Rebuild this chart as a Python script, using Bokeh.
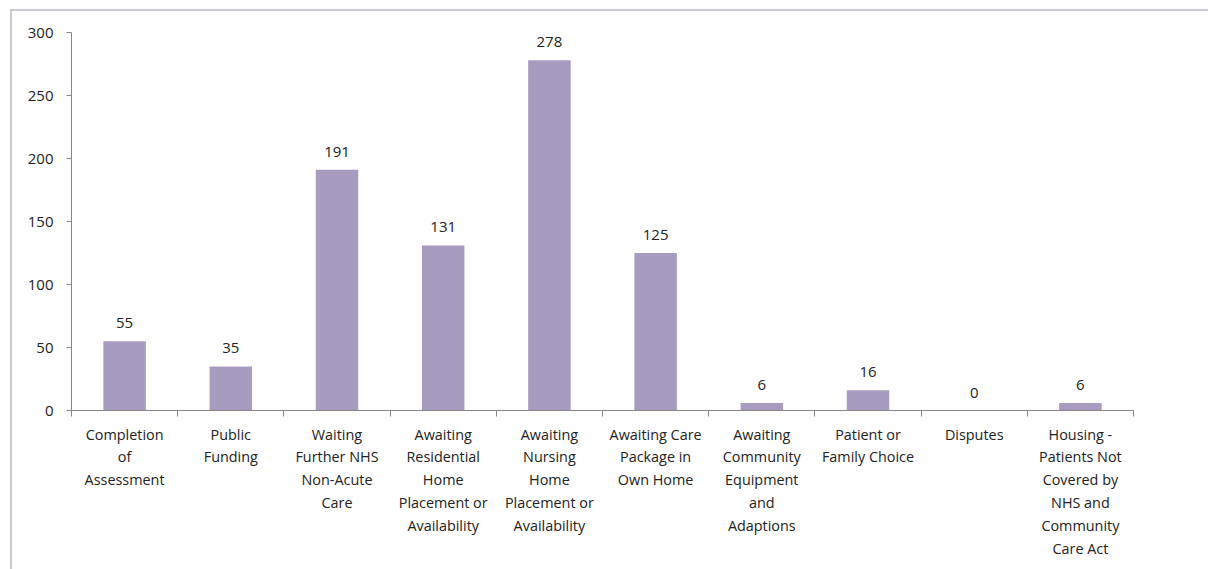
from bokeh.plotting import figure
from bokeh.models import FixedTicker, Range1d, ColumnDataSource
from bokeh.core.properties import value
from bokeh.embed import file_html
from bokeh.resources import INLINE

categories = [
    "Completion\nof\nAssessment",
    "Public\nFunding",
    "Waiting\nFurther NHS\nNon-Acute\nCare",
    "Awaiting\nResidential\nHome\nPlacement or\nAvailability",
    "Awaiting\nNursing\nHome\nPlacement or\nAvailability",
    "Awaiting Care\nPackage in\nOwn Home",
    "Awaiting\nCommunity\nEquipment\nand\nAdaptions",
    "Patient or\nFamily Choice",
    "Disputes",
    "Housing -\nPatients Not\nCovered by\nNHS and\nCommunity\nCare Act",
]
values = [55, 35, 191, 131, 278, 125, 6, 16, 0, 6]
y_ticks = [0, 50, 100, 150, 200, 250, 300]

n = len(categories)
centers = [i + 0.5 for i in range(n)]
bounds = list(range(n + 1))

src = ColumnDataSource(dict(x=centers, top=values, label=[str(v) for v in values]))

FONT = "Open Sans"
TXT = "#222222"

p = figure(
    width=1196, height=558,
    output_backend="svg", toolbar_location=None,
    x_range=Range1d(0, n), y_range=Range1d(0, 300),
    frame_width=1062, frame_height=378,
    min_border_left=59, min_border_top=21, min_border_right=75, min_border_bottom=159,
)
p.styles = {
    "border-top": "2px solid #c9cbd0",
    "border-left": "2px solid #c9cbd0",
    "margin-top": "9px",
    "margin-left": "10px",
}
p.outline_line_color = None
p.xgrid.grid_line_color = None
p.ygrid.grid_line_color = None
p.background_fill_color = "white"
p.border_fill_color = "white"

p.vbar(x="x", top="top", width=0.4, bottom=0, source=src,
       fill_color="#A89BC0", line_color=None)

p.text(x="x", y="top", text="label", source=src, y_offset=-13,
       text_align="center", text_baseline="bottom",
       text_font=value(FONT), text_font_size="15px", text_color=TXT)

# x axis
xa = p.xaxis[0]
xa.ticker = FixedTicker(ticks=centers, minor_ticks=bounds)
xa.major_label_overrides = {c: lab for c, lab in zip(centers, categories)}
xa.major_tick_out = 0
xa.major_tick_in = 0
xa.minor_tick_out = 6
xa.minor_tick_in = 0
xa.minor_tick_line_color = "#868686"
xa.axis_line_color = "#868686"
xa.major_label_text_font = FONT
xa.major_label_text_font_size = "14.4px"
xa.major_label_text_color = TXT
xa.major_label_standoff = 8

# y axis
ya = p.yaxis[0]
ya.ticker = FixedTicker(ticks=y_ticks)
ya.major_tick_out = 5
ya.major_tick_in = 0
ya.minor_tick_line_color = None
ya.axis_line_color = "#868686"
ya.major_tick_line_color = "#868686"
ya.major_label_text_font = FONT
ya.major_label_text_font_size = "15px"
ya.major_label_text_color = TXT
ya.major_label_standoff = 13

open("out.html", "w").write(file_html(p, INLINE))
